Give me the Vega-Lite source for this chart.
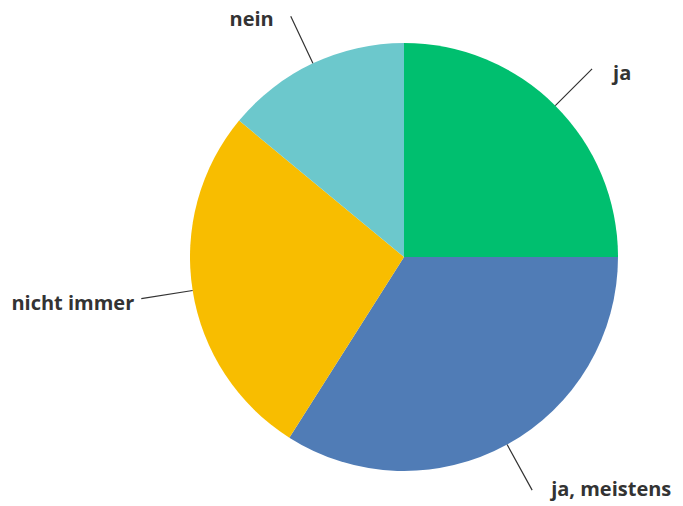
{
  "$schema": "https://vega.github.io/schema/vega-lite/v6.json",
  "autosize": "none",
  "width": 558,
  "height": 498,
  "padding": {"left": 125, "top": 8, "right": 0, "bottom": 0},
  "background": "white",
  "config": {"view": {"stroke": null}},
  "data": {
    "values": [
      {"label": "ja", "v": 25, "i": 1},
      {"label": "ja, meistens", "v": 34, "i": 2},
      {"label": "nicht immer", "v": 27, "i": 3},
      {"label": "nein", "v": 14, "i": 4}
    ]
  },
  "encoding": {
    "theta": {"field": "v", "type": "quantitative", "stack": true},
    "order": {"field": "i", "type": "quantitative"}
  },
  "layer": [
    {
      "mark": {"type": "arc", "outerRadius": 214},
      "encoding": {
        "color": {
          "field": "label",
          "type": "nominal",
          "scale": {
            "domain": ["ja", "ja, meistens", "nicht immer", "nein"],
            "range": ["#00BF6F", "#507CB6", "#F8BD00", "#6CC8CC"]
          },
          "legend": null
        }
      }
    },
    {
      "mark": {"type": "arc", "outerRadius": 266, "innerRadius": 214, "padAngle": 3, "fill": null, "stroke": "#333333", "strokeWidth": 1.2},
      "encoding": {}
    },
    {
      "mark": {"type": "text", "radius": 266, "align": "left", "baseline": "alphabetic", "dx": 21, "dy": 11, "font": "Open Sans", "fontWeight": "bold", "fontSize": 20, "color": "#333333"},
      "encoding": {"text": {"condition": {"test": "datum.label === 'ja'", "field": "label"}, "value": ""}}
    },
    {
      "mark": {"type": "text", "radius": 266, "align": "left", "baseline": "alphabetic", "dx": 19, "dy": 6, "font": "Open Sans", "fontWeight": "bold", "fontSize": 20, "color": "#333333"},
      "encoding": {"text": {"condition": {"test": "datum.label === 'ja, meistens'", "field": "label"}, "value": ""}}
    },
    {
      "mark": {"type": "text", "radius": 266, "align": "right", "baseline": "alphabetic", "dx": -17, "dy": 10, "font": "Open Sans", "fontWeight": "bold", "fontSize": 20, "color": "#333333"},
      "encoding": {"text": {"condition": {"test": "datum.label === 'nein'", "field": "label"}, "value": ""}}
    },
    {
      "mark": {"type": "text", "radius": 266, "align": "right", "baseline": "alphabetic", "dx": -7, "dy": 11, "font": "Open Sans", "fontWeight": "bold", "fontSize": 20, "color": "#333333"},
      "encoding": {"text": {"condition": {"test": "datum.label === 'nicht immer'", "field": "label"}, "value": ""}}
    }
  ]
}
